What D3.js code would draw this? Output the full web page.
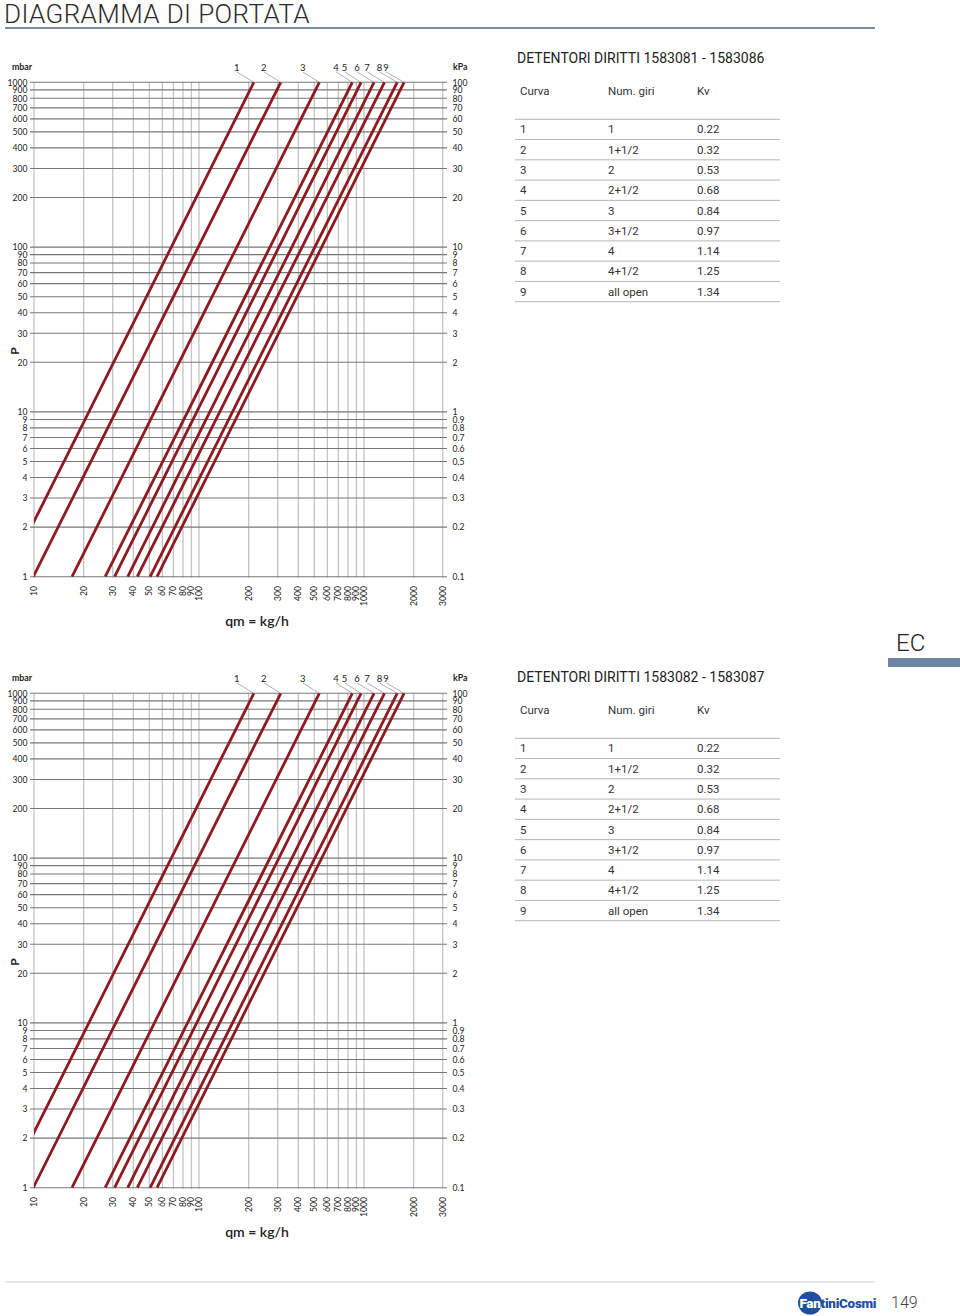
<!DOCTYPE html>
<html>
<head>
<meta charset="utf-8">
<script src="https://cdn.jsdelivr.net/npm/d3@7"></script>
<style>
  html, body { margin: 0; padding: 0; background: #fff; }
  svg { display: block; }
</style>
</head>
<body>
<svg id="page" width="960" height="1316"></svg>
<script>
// ---------- DATA ----------
const curveIds = ["1","2","3","4","5","6","7","8","9"];
// flow (kg/h) read at Δp = 1000 mbar (top of chart)
const flowAt1000 = [215, 313, 536, 850, 960, 1150, 1330, 1590, 1750];
// flow (kg/h) read at Δp = 1 mbar (bottom of chart)
const flowAt1 = [6.8, 9.9, 17, 27, 30.8, 37, 42.3, 50.6, 55.7];
// flow positions of the curve number labels
const labelFlow = [163, 238, 409, 651, 733, 873, 1005, 1194, 1309];

const xTicks = [10,20,30,40,50,60,70,80,90,100,200,300,400,500,600,700,800,900,1000,2000,3000];
const yTicksMbar = [1,2,3,4,5,6,7,8,9,10,20,30,40,50,60,70,80,90,100,200,300,400,500,600,700,800,900,1000];
const yTickKpa = ["0.1","0.2","0.3","0.4","0.5","0.6","0.7","0.8","0.9","1","2","3","4","5","6","7","8","9","10","20","30","40","50","60","70","80","90","100"];

const tableTitles = ["DETENTORI DIRITTI 1583081 - 1583086", "DETENTORI DIRITTI 1583082 - 1583087"];
const tableHeader = ["Curva", "Num. giri", "Kv"];
const tableCurva = ["1","2","3","4","5","6","7","8","9"];
const tableGiri = ["1","1+1/2","2","2+1/2","3","3+1/2","4","4+1/2","all open"];
const tableKv = ["0.22","0.32","0.53","0.68","0.84","0.97","1.14","1.25","1.34"];

// ---------- DRAW ----------
const svg = d3.select("#page");
const FONT = "Roboto, 'DejaVu Sans', sans-serif";
const CFONT = "Lato, 'Noto Sans', sans-serif";
const RED = "#8e1a1f";

// Title
svg.append("text").attr("x", 4).attr("y", 22.5)
  .attr("font-family", FONT).attr("font-weight", 300).attr("font-size", 26)
  .attr("fill", "#2b2b2b").attr("letter-spacing", 0.4).text("DIAGRAMMA DI PORTATA");
svg.append("line").attr("x1", 5).attr("x2", 875).attr("y1", 28).attr("y2", 28)
  .attr("stroke", "#7b8a9d").attr("stroke-width", 2);

const x = d3.scaleLog().domain([10, 3000]).range([34, 442.7]);
const y = d3.scaleLog().domain([1, 1000]).range([576.7, 82.3]);

function drawChart(offY, idx) {
  const g = svg.append("g").attr("transform", `translate(0,${offY})`);
  const [x0, x1] = x.range();
  const [y0, y1] = y.range();

  // vertical grid
  g.append("g").selectAll("line").data(xTicks).join("line")
    .attr("x1", d => x(d)).attr("x2", d => x(d))
    .attr("y1", y1).attr("y2", y0 + 1)
    .attr("stroke", "#c4c4c4").attr("stroke-width", 1.3);

  // horizontal grid
  g.append("g").selectAll("line").data(yTicksMbar).join("line")
    .attr("x1", 30).attr("x2", 447)
    .attr("y1", d => y(d)).attr("y2", d => y(d))
    .attr("stroke", "#777").attr("stroke-width", 1.1);

  // left axis (mbar)
  const left = d3.axisLeft(y).tickValues(yTicksMbar).tickFormat(d3.format("d")).tickSize(0).tickPadding(0);
  const la = g.append("g").attr("transform", "translate(27.5,0)").call(left);
  la.select(".domain").remove();
  la.selectAll("text").attr("font-family", CFONT).attr("font-size", 8.6).attr("fill", "#222");

  // right axis (kPa)
  const right = d3.axisRight(y).tickValues(yTicksMbar)
    .tickFormat((d, i) => yTickKpa[i]).tickSize(0).tickPadding(0);
  const ra = g.append("g").attr("transform", "translate(452.5,0)").call(right);
  ra.select(".domain").remove();
  ra.selectAll("text").attr("font-family", CFONT).attr("font-size", 8.6).attr("fill", "#222");

  // bottom labels (rotated)
  g.append("g").selectAll("text").data(xTicks).join("text")
    .attr("transform", d => `translate(${x(d)},586) rotate(-90)`)
    .attr("text-anchor", "end").attr("dy", "0.35em")
    .attr("font-family", CFONT).attr("font-size", 8.6).attr("fill", "#222")
    .text(d => d);

  // units
  g.append("text").attr("x", 12).attr("y", 70).attr("font-family", CFONT)
    .attr("font-size", 8.8).attr("font-weight", 700).attr("fill", "#222").text("mbar");
  g.append("text").attr("x", 453).attr("y", 70).attr("font-family", CFONT)
    .attr("font-size", 8.8).attr("font-weight", 700).attr("fill", "#222").text("kPa");
  g.append("text").attr("transform", "translate(19,351) rotate(-90)")
    .attr("text-anchor", "middle").attr("font-family", CFONT)
    .attr("font-size", 12).attr("font-weight", 700).attr("fill", "#222").text("P");
  g.append("text").attr("x", 257).attr("y", 626).attr("text-anchor", "middle")
    .attr("font-family", CFONT).attr("font-size", 14).attr("font-weight", 600)
    .attr("fill", "#222").text("qm = kg/h");

  // clip
  const clipId = "clip" + idx;
  g.append("clipPath").attr("id", clipId).append("rect")
    .attr("x", x0).attr("y", y1 - 2).attr("width", x1 - x0).attr("height", y0 - y1 + 4);

  // leaders
  g.append("g").selectAll("line").data(curveIds).join("line")
    .attr("x1", (d, i) => x(labelFlow[i]) + 3).attr("y1", 72)
    .attr("x2", (d, i) => x(flowAt1000[i])).attr("y2", y(1000))
    .attr("stroke", "#9a9a9a").attr("stroke-width", 0.8);

  // labels
  g.append("g").selectAll("text").data(curveIds).join("text")
    .attr("x", (d, i) => x(labelFlow[i])).attr("y", 70.5)
    .attr("font-family", CFONT).attr("font-size", 9.5).attr("fill", "#222")
    .text(d => d);

  // curves
  const line = d3.line().x(d => x(d[0])).y(d => y(d[1]));
  g.append("g").attr("clip-path", `url(#${clipId})`)
    .selectAll("path").data(curveIds).join("path")
    .attr("d", (d, i) => line([[flowAt1[i], 1], [flowAt1000[i], 1000]]))
    .attr("fill", "none").attr("stroke", RED).attr("stroke-width", 2.8);
}

function drawTable(offY, title) {
  const g = svg.append("g").attr("transform", `translate(0,${offY})`);
  g.append("text").attr("x", 517).attr("y", 63).attr("font-family", FONT)
    .attr("font-weight", 400).attr("font-size", 14).attr("fill", "#222").text(title);
  const cols = [520, 608, 697];
  g.selectAll("text.h").data(tableHeader).join("text").attr("class", "h")
    .attr("x", (d, i) => cols[i]).attr("y", 95)
    .attr("font-family", FONT).attr("font-size", 11.5).attr("fill", "#333").text(d => d);
  const rowY = d3.scaleLinear().domain([0, 9]).range([119.3, 301.7]);
  g.selectAll("line.r").data(d3.range(10)).join("line").attr("class", "r")
    .attr("x1", 515).attr("x2", 780)
    .attr("y1", d => rowY(d)).attr("y2", d => rowY(d))
    .attr("stroke", "#b5b5b5").attr("stroke-width", 1);
  const rows = tableCurva.map((c, i) => [c, tableGiri[i], tableKv[i]]);
  rows.forEach((r, i) => {
    r.forEach((t, j) => {
      g.append("text").attr("x", cols[j]).attr("y", (rowY(i) + rowY(i + 1)) / 2 + 4)
        .attr("font-family", FONT).attr("font-size", 11.5).attr("fill", "#333").text(t);
    });
  });
}

drawChart(0, 0);
drawChart(611, 1);
drawTable(0, tableTitles[0]);
drawTable(619, tableTitles[1]);

// EC marker
svg.append("text").attr("x", 896).attr("y", 651).attr("font-family", FONT)
  .attr("font-weight", 300).attr("font-size", 24).attr("fill", "#222").text("EC");
svg.append("rect").attr("x", 888).attr("y", 658).attr("width", 72).attr("height", 9)
  .attr("fill", "#6e84a4");

// footer
svg.append("line").attr("x1", 5).attr("x2", 875).attr("y1", 1282).attr("y2", 1282)
  .attr("stroke", "#cfcfcf").attr("stroke-width", 1);
svg.append("ellipse").attr("cx", 810).attr("cy", 1303).attr("rx", 12).attr("ry", 11.5)
  .attr("fill", "#1f4f9e");
svg.append("text").attr("x", 799.5).attr("y", 1307.5).attr("font-family", "Roboto, sans-serif")
  .attr("font-weight", 900).attr("font-size", 13.5).attr("letter-spacing", -0.3)
  .attr("fill", "#1f4f9e")
  .html('<tspan fill="#fff">Fan</tspan>tiniCosmi');
svg.append("text").attr("x", 891).attr("y", 1308).attr("font-family", FONT)
  .attr("font-weight", 300).attr("font-size", 16).attr("fill", "#444").text("149");
</script>
</body>
</html>
